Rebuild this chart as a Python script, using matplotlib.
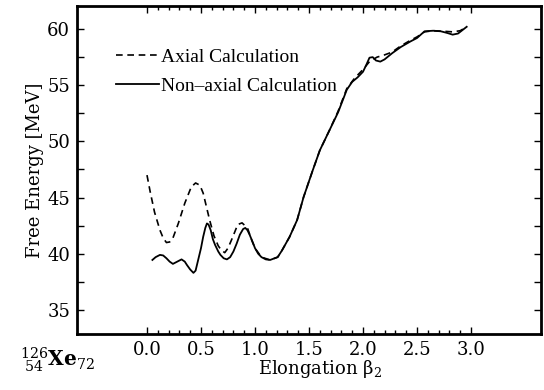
import matplotlib
matplotlib.use("Agg")
import matplotlib.pyplot as plt
from matplotlib.ticker import MultipleLocator, FixedLocator

# Axial calculation (dashed)
axial_x = [0.0, 0.03, 0.07, 0.12, 0.15, 0.18, 0.21, 0.24, 0.29, 0.35, 0.41, 0.45, 0.49, 0.52, 0.55,
           0.58, 0.62, 0.66, 0.69, 0.72, 0.75, 0.79, 0.84, 0.88, 0.93, 0.97, 1.0, 1.06, 1.14, 1.21,
           1.25, 1.32, 1.39, 1.45, 1.53, 1.6, 1.69, 1.77, 1.85, 1.92, 2.0, 2.06, 2.13, 2.2, 2.27,
           2.35, 2.44, 2.5, 2.57, 2.65, 2.75, 2.83, 2.9, 2.96]
axial_y = [47.0, 45.5, 43.7, 42.1, 41.4, 41.0, 41.05, 41.4, 42.7, 44.5, 45.95, 46.3, 46.1, 45.4, 44.2,
           43.0, 41.6, 40.7, 40.3, 40.1, 40.5, 41.4, 42.6, 42.75, 42.3, 41.2, 40.5, 39.7, 39.45, 39.7,
           40.3, 41.5, 43.0, 45.05, 47.3, 49.2, 51.0, 52.7, 54.7, 55.6, 56.4, 57.1, 57.5, 57.7, 57.95,
           58.5, 59.0, 59.3, 59.75, 59.85, 59.8, 59.75, 59.85, 60.2]

# Non-axial calculation (solid)
nonaxial_x = [0.05, 0.08, 0.12, 0.15, 0.18, 0.21, 0.24, 0.28, 0.32, 0.35, 0.37, 0.4, 0.43, 0.45,
              0.47, 0.5, 0.52, 0.54, 0.555, 0.57, 0.59, 0.61, 0.63, 0.66, 0.68, 0.71, 0.74, 0.77, 0.8,
              0.83, 0.86, 0.89, 0.91, 0.93, 0.95, 0.98, 1.0, 1.03, 1.06, 1.1, 1.14, 1.21, 1.25, 1.32,
              1.39, 1.45, 1.53, 1.6, 1.69, 1.77, 1.85, 1.9, 1.95, 2.0, 2.03, 2.06, 2.09, 2.12, 2.16,
              2.2, 2.27, 2.35, 2.44, 2.5, 2.57, 2.65, 2.72, 2.78, 2.83, 2.88, 2.92, 2.96]
nonaxial_y = [39.45, 39.7, 39.9, 39.85, 39.6, 39.3, 39.1, 39.3, 39.5, 39.3, 39.0, 38.6, 38.3, 38.5,
              39.3, 40.5, 41.5, 42.3, 42.7, 42.6, 42.1, 41.3, 40.8, 40.2, 39.9, 39.6, 39.5, 39.7, 40.2,
              40.9, 41.7, 42.2, 42.3, 42.1, 41.7, 41.0, 40.5, 40.0, 39.7, 39.5, 39.45, 39.7, 40.3, 41.5,
              43.0, 45.05, 47.3, 49.2, 51.0, 52.6, 54.6, 55.3, 55.7, 56.2, 56.8, 57.45, 57.5, 57.2, 57.1,
              57.3, 57.85, 58.4, 58.9, 59.2, 59.8, 59.85, 59.8, 59.65, 59.5, 59.6, 59.9, 60.2]

xticks = [0.0, 0.5, 1.0, 1.5, 2.0, 2.5, 3.0]
xticklabels = ["0.0", "0.5", "1.0", "1.5", "2.0", "2.5", "3.0"]
yticks = [35, 40, 45, 50, 55, 60]

plt.rcParams['font.family'] = ['DejaVu Serif']
plt.rcParams['mathtext.fontset'] = 'dejavuserif'

fig = plt.figure(figsize=(5.44, 3.90), dpi=100)
ax = fig.add_axes([77/544, 1 - 334/390, (541-77)/544, (334-6)/390])

ax.plot(axial_x, axial_y, color='black', lw=1.2, linestyle=(0, (4, 2.8)),
        solid_joinstyle='round', label='Axial Calculation')
ax.plot(nonaxial_x, nonaxial_y, color='black', lw=1.3, solid_joinstyle='round',
        label='Non\u2013axial Calculation')

ax.set_xlim(-0.648, 3.648)
ax.set_ylim(32.86, 62.05)

ax.xaxis.set_major_locator(FixedLocator(xticks))
ax.set_xticklabels(xticklabels)
ax.xaxis.set_minor_locator(FixedLocator([i/10 for i in range(0, 31)]))
ax.yaxis.set_major_locator(FixedLocator(yticks))
ax.yaxis.set_minor_locator(MultipleLocator(2.5))

ax.tick_params(axis='both', which='both', direction='in', top=True, right=True, width=1.0)
ax.tick_params(axis='x', which='major', length=5, labelsize=13, pad=5)
ax.tick_params(axis='x', which='minor', length=3)
ax.tick_params(axis='y', which='major', length=5, labelsize=13, pad=5)
ax.tick_params(axis='y', which='minor', length=5)

for s in ax.spines.values():
    s.set_linewidth(2.0)

ax.set_ylabel('Free Energy [MeV]', fontsize=13, labelpad=2)
ax.set_xlabel('Elongation \u03b2$_2$', fontsize=13)
ax.xaxis.set_label_coords((320-77)/464, -(358-334)/328)

ax.legend(loc='upper left', bbox_to_anchor=(0.047, 0.925), frameon=False,
          handlelength=2.2, handletextpad=0.1, labelspacing=0.6,
          prop={'family': 'Liberation Serif', 'size': 14})

fig.text(20/544, 1 - 366/390, r'$^{126}_{\ 54}\mathbf{Xe}_{72}$', fontsize=14.5, ha='left', va='baseline')

fig.savefig('out.png', dpi=100)
